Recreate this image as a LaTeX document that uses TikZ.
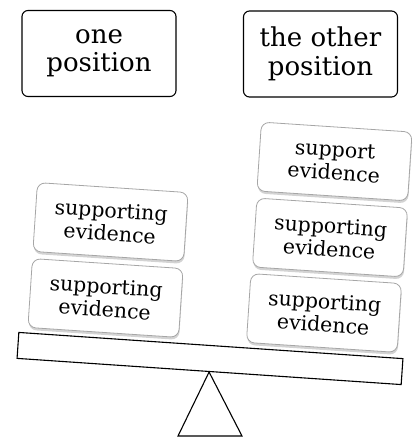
\documentclass[tikz,border=0pt]{standalone}
\usepackage{fontspec}
\setmainfont{DejaVu Serif}
\usetikzlibrary{shadows}
\begin{document}
\begin{tikzpicture}[x=1pt,y=-1pt,
  position/.style={draw=black, line width=1.1pt, rounded corners=6pt,
    minimum width=154pt, minimum height=86pt, align=center, inner sep=0pt,
    font=\fontsize{26}{28.5}\selectfont},
  evidence/.style={draw=gray!70, line width=0.8pt, rounded corners=8pt, fill=white,
    minimum width=151pt, minimum height=69pt, align=center, inner sep=0pt,
    rotate=-3.8, font=\fontsize{20.5}{23}\selectfont,
    drop shadow={shadow xshift=0.5pt, shadow yshift=-2.5pt, opacity=0.35}},
  lever/.style={draw=black, line width=1.1pt}]
\useasboundingbox (0,0) rectangle (418,437);

% the two positions
\node[position] (one) at (99,53.5) {one\\position};
\node[position] (other) at (320.5,54) {the other\\position};

% the balance beam and its pivot
\node[lever, rectangle, minimum width=385pt, minimum height=26pt, inner sep=0pt,
      rotate=-3.9] (beam) at (210,358.5) {};
\coordinate (baseL) at (178,436);
\coordinate (baseR) at (242,436);
\draw[lever, line join=miter] (beam.south) -- (baseL) -- (baseR) -- cycle;

% evidence stacked on each side
\node[evidence] (leftlow) at (105.5,298) {supporting\\evidence};
\node[evidence] (lefthigh) at (110.5,222) {supporting\\evidence};

\node[evidence] (rightlow) at (324,313) {supporting\\evidence};
\node[evidence] (rightmid) at (330,237.5) {supporting\\evidence};
\node[evidence] (righttop) at (334.5,161.5) {support\\evidence};
\end{tikzpicture}
\end{document}
